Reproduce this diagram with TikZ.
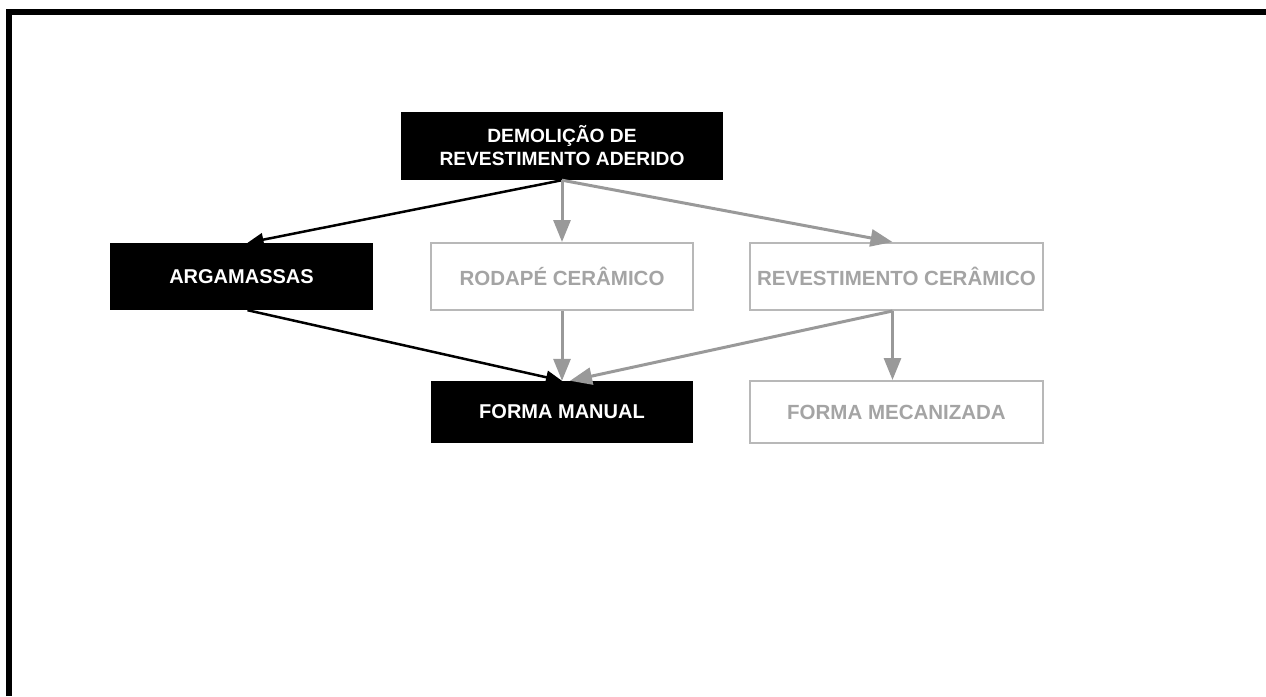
\documentclass[tikz,border=0pt]{standalone}
\usepackage{fontspec}
\setmainfont{Liberation Sans}
\usetikzlibrary{arrows.meta,calc}
\definecolor{arrowgray}{HTML}{999999}
\definecolor{boxgray}{HTML}{B8B8B8}
\definecolor{textgray}{HTML}{A4A4A4}
\tikzset{
  darkbox/.style={fill=black,text=white,font=\bfseries\fontsize{20}{23}\selectfont,
    align=center,inner sep=0pt,anchor=center},
  lightbox/.style={draw=boxgray,line width=2pt,fill=white,text=textgray,
    font=\bfseries\fontsize{20.5}{23}\selectfont,align=center,inner sep=0pt,anchor=center},
  darkarrow/.style={draw=black,line width=2.5pt,-{Triangle[length=16pt,width=13pt]}},
  grayarrow/.style={draw=arrowgray,line width=3pt,-{Triangle[length=22pt,width=17pt]}},
}
\begin{document}
\begin{tikzpicture}[x=1pt,y=-1pt]
\useasboundingbox (0,0) rectangle (1266,696);
\draw[line width=6pt] (9,696) -- (9,12) -- (1266,12);

\node[darkbox,font=\bfseries\fontsize{19.2}{23}\selectfont,minimum width=322pt,minimum height=68pt] (demo) at (562,146)
  {DEMOLIÇÃO DE\\REVESTIMENTO ADERIDO};
\node[darkbox,minimum width=263pt,minimum height=67pt] (arg) at (241.5,276.5) {ARGAMASSAS};
\node[lightbox,minimum width=262pt,minimum height=67pt] (rod) at (562,276.5) {RODAPÉ CERÂMICO};
\node[lightbox,minimum width=293pt,minimum height=67pt] (rev) at (896.5,276.5) {REVESTIMENTO CERÂMICO};
\node[darkbox,minimum width=262pt,minimum height=62pt] (man) at (562,412) {FORMA MANUAL};
\node[lightbox,minimum width=293pt,minimum height=62pt] (mec) at (896.5,412) {FORMA MECANIZADA};

\draw[darkarrow] (demo.south) -- ($(arg.north)+(6,0)$);
\draw[grayarrow] (demo.south) -- (rod.north);
\draw[grayarrow] (demo.south) -- ($(rev.north)+(-4,0)$);
\draw[darkarrow] ($(arg.south)+(6,0)$) -- (man.north);
\draw[grayarrow] (rod.south) -- (man.north);
\draw[grayarrow] ($(rev.south)+(-4,0)$) -- ($(man.north)+(8,0)$);
\draw[grayarrow] ($(rev.south)+(-4,0)$) -- ($(mec.north)+(-4,0)$);
\end{tikzpicture}
\end{document}
